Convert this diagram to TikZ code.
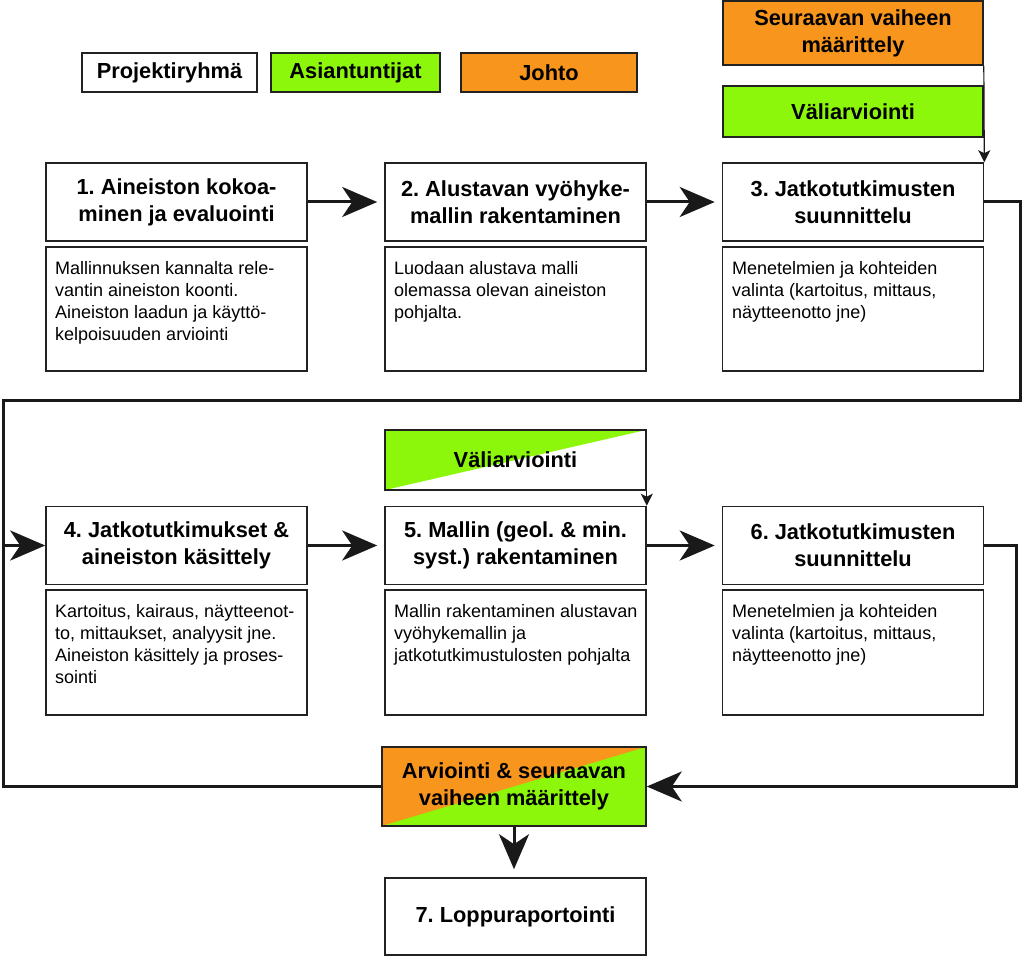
\documentclass[tikz,border=0pt]{standalone}
\usepackage{fontspec}
\setmainfont{Liberation Sans}
\usetikzlibrary{arrows.meta}
\definecolor{org}{HTML}{F7951D}
\definecolor{grn}{HTML}{8CF70A}
\definecolor{edge}{HTML}{222222}
\frenchspacing
\begin{document}
\begin{tikzpicture}[x=1pt,y=-1pt,
 box/.style={draw=edge, line width=1.6pt, inner sep=0pt},
 ttl/.style={box, fill=white, minimum width=261pt, minimum height=78pt, align=center, font=\bfseries\fontsize{21.8}{27}\selectfont},
 dsc/.style={box, minimum width=261pt, minimum height=124pt},
 txt/.style={anchor=north west, align=left, inner sep=0pt, font=\fontsize{18}{22}\selectfont},
 conn/.style={line width=3pt, draw=black!90},
 big/.style={-{Stealth[length=35pt,width=30pt,inset=10pt]}},
 small/.style={line width=1.2pt, draw=black!90, -{Stealth[length=12pt,width=12pt,inset=3pt]}},
]
\useasboundingbox (0,0) rectangle (1024,957);

% legend
\node[ttl, minimum width=175pt, minimum height=39pt] (proj) at (169.5,72.5) {Projektiryhmä};
\node[ttl, fill=grn, minimum width=169pt, minimum height=39pt] (asi) at (355.5,72.5) {Asiantuntijat};
\node[ttl, fill=org, minimum width=176pt, minimum height=39pt] (joh) at (549,72.5) {Johto};

% top right
\node[ttl, fill=org, minimum width=260pt, minimum height=64pt] (seur) at (853,33) {Seuraavan vaiheen\\määrittely};
\node[ttl, fill=grn, minimum width=260pt, minimum height=51pt] (vali1) at (853,111.5) {Väliarviointi};

% row 1
\node[ttl] (b1) at (176.5,202) {1. Aineiston kokoa-\\minen ja evaluointi};
\node[ttl] (b2) at (515.5,202) {2. Alustavan vyöhyke-\\mallin rakentaminen};
\node[ttl] (b3) at (853,202) {3. Jatkotutkimusten\\suunnittelu};
\node[dsc] (d1) at (176.5,309) {};
\node[dsc] (d2) at (515.5,309) {};
\node[dsc] (d3) at (853,309) {};
\node[txt] (t1) at (55,261) {Mallinnuksen kannalta rele-\\vantin aineiston koonti.\\Aineiston laadun ja käyttö-\\kelpoisuuden arviointi};
\node[txt] (t2) at (394,261) {Luodaan alustava malli\\olemassa olevan aineiston\\pohjalta.};
\node[txt] (t3) at (732,261) {Menetelmien ja kohteiden\\valinta (kartoitus, mittaus,\\näytteenotto jne)};

% row 2
\node[ttl, fill=white, minimum height=60pt,
  path picture={\fill[grn] (path picture bounding box.south west) -- (path picture bounding box.north west) -- (path picture bounding box.north east) -- cycle;}] (vali2) at (515.5,460) {Väliarviointi};
\node[ttl] (b4) at (176.5,545.5) {4. Jatkotutkimukset \&\\aineiston käsittely};
\node[ttl] (b5) at (515.5,545.5) {5. Mallin (geol. \& min.\\syst.) rakentaminen};
\node[ttl] (b6) at (853,545.5) {6. Jatkotutkimusten\\suunnittelu};
\node[dsc, minimum height=125pt] (d4) at (176.5,652.5) {};
\node[dsc, minimum height=125pt] (d5) at (515.5,652.5) {};
\node[dsc, minimum height=125pt] (d6) at (853,652.5) {};
\node[txt] (t4) at (55,604) {Kartoitus, kairaus, näytteenot-\\to, mittaukset, analyysit jne.\\Aineiston käsittely ja proses-\\sointi};
\node[txt] (t5) at (394,604) {Mallin rakentaminen alustavan\\vyöhykemallin ja\\jatkotutkimustulosten pohjalta};
\node[txt] (t6) at (732,604) {Menetelmien ja kohteiden\\valinta (kartoitus, mittaus,\\näytteenotto jne)};

% bottom
\node[ttl, fill=org, minimum width=264pt, minimum height=79pt,
  path picture={\fill[grn] (path picture bounding box.south west) -- (path picture bounding box.north east) -- (path picture bounding box.south east) -- cycle;}] (arv) at (514,786.5) {Arviointi \& seuraavan\\vaiheen määrittely};
\node[ttl, minimum height=77pt] (b7) at (515.5,916.5) {7. Loppuraportointi};

% connectors
\coordinate (r1) at (1020,202);
\coordinate (r2) at (1020,400);
\coordinate (l1) at (3,400);
\coordinate (l2) at (3,786.5);
\coordinate (l3) at (3,545.5);
\coordinate (s1) at (1016,545.5);
\coordinate (s2) at (1016,786.5);

\draw[conn] (b3.east) -- (r1) -- (r2) -- (l1) -- (l2) -- (arv.west);
\draw[conn,big] (l3) -- (b4.west);
\draw[conn,big] (b6.east) -- (s1) -- (s2) -- (arv.east);
\draw[conn,big,shorten >=7pt] (b1.east) -- (b2.west);
\draw[conn,big,shorten >=7pt] (b2.east) -- (b3.west);
\draw[conn,big,shorten >=7pt] (b4.east) -- (b5.west);
\draw[conn,big,shorten >=7pt] (b5.east) -- (b6.west);
\draw[conn,big,shorten >=8pt] (arv.south) -- (arv.south |- b7.north);
\draw[small] (seur.south east) -- (b3.north east);
\draw[small] (vali2.south east) -- (b5.north east);
\end{tikzpicture}
\end{document}
